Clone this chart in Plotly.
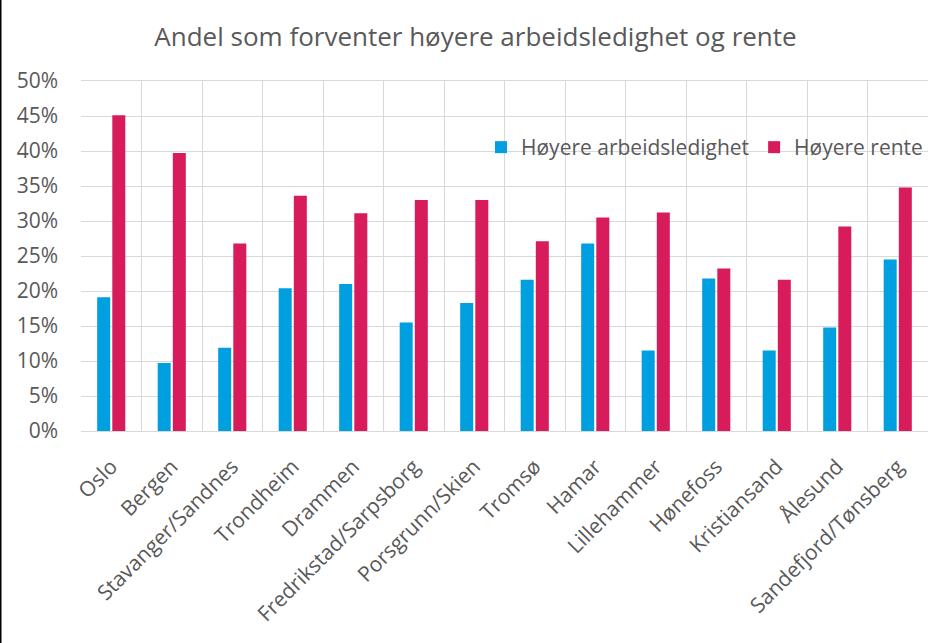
import plotly.graph_objects as go

categories = ["Oslo", "Bergen", "Stavanger/Sandnes", "Trondheim", "Drammen",
              "Fredrikstad/Sarpsborg", "Porsgrunn/Skien", "Tromsø", "Hamar",
              "Lillehammer", "Hønefoss", "Kristiansand", "Ålesund", "Sandefjord/Tønsberg"]
arbeidsledighet = [19.1, 9.7, 11.9, 20.4, 21.0, 15.5, 18.3, 21.6, 26.8, 11.5, 21.8, 11.5, 14.8, 24.5]
rente = [45.1, 39.7, 26.8, 33.6, 31.1, 33.0, 33.0, 27.1, 30.5, 31.2, 23.2, 21.6, 29.2, 34.8]
series_names = ["Høyere arbeidsledighet", "Høyere rente"]
colors = ["#009FDF", "#D81B5B"]
title = "Andel som forventer høyere arbeidsledighet og rente"

font_family = "Open Sans, sans-serif"
text_color = "#595959"
grid_color = "#D9D9D9"

fig = go.Figure()
for name, vals, col in zip(series_names, [arbeidsledighet, rente], colors):
    fig.add_trace(go.Bar(x=categories, y=[v / 100 for v in vals], name=name,
                         marker=dict(color=col, line=dict(width=0))))

fig.update_layout(
    width=951, height=643,
    margin=dict(l=81, r=23, t=81, b=212, autoexpand=False),
    paper_bgcolor="white", plot_bgcolor="white",
    barmode="group", bargap=0.5, bargroupgap=0.14,
    title=dict(text=title, x=0.5, xanchor="center", y=0.943, yanchor="middle",
               font=dict(family=font_family, size=26, color=text_color)),
    font=dict(family=font_family, size=21, color=text_color),
    legend=dict(orientation="h", x=1.0, xanchor="right", y=0.81, yanchor="middle",
                bgcolor="rgba(0,0,0,0)", font=dict(size=21, color=text_color),
                itemwidth=30, traceorder="normal"),
    xaxis=dict(type="category", tickson="boundaries", showgrid=True, gridcolor=grid_color,
               gridwidth=1, tickangle=-45, ticks="", showline=True, linecolor=grid_color,
               mirror=True, ticklabelstandoff=14, tickfont=dict(size=21, color=text_color)),
    yaxis=dict(range=[0, 0.5], dtick=0.05, tickformat=".0%", showgrid=True,
               gridcolor=grid_color, gridwidth=1, ticks="", showline=False,
               zeroline=False, ticklabelstandoff=22, tickfont=dict(size=21, color=text_color)),
    shapes=[dict(type="line", xref="paper", yref="paper", x0=-81/847, x1=-81/847,
                 y0=-212/350, y1=1 + 81/350, line=dict(color="black", width=3))],
)

fig.write_html("out.html", config={"displayModeBar": False},
               post_script="document.body.style.margin='0';")
